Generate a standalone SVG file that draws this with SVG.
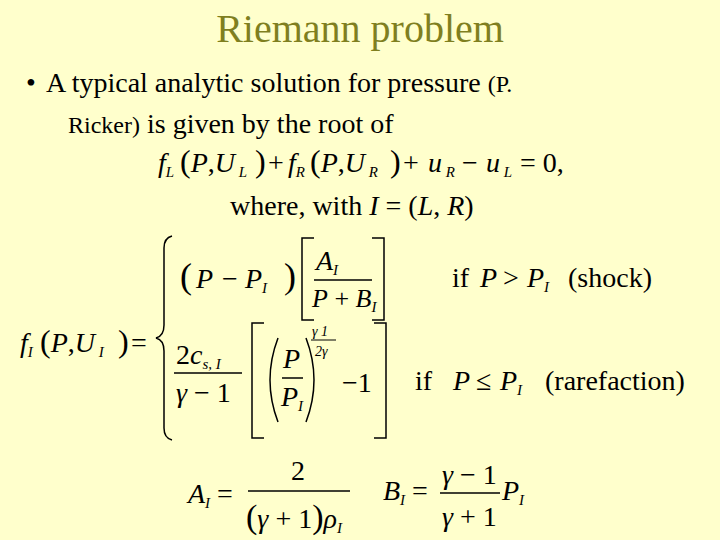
<svg xmlns="http://www.w3.org/2000/svg" width="720" height="540" viewBox="0 0 720 540">
<style>
text{font-family:"Liberation Serif","Times New Roman",serif;fill:#000}
.i{font-style:italic}
.m{font-size:28px}
.s{font-size:15px;font-style:italic}
.ln{stroke:#000;stroke-width:1.5;fill:none}
</style>
<rect width="720" height="540" fill="#FFFFCC"/>
<g id="title"><text x="360" y="42" text-anchor="middle" font-size="40" style="fill:#7F7F1F">Riemann problem</text></g>
<g id="body">
<text x="26" y="92" font-size="28">•</text>
<text x="46" y="92" font-size="28">A typical analytic solution for pressure <tspan font-size="24">(P.</tspan></text>
<text x="68" y="133" font-size="28"><tspan font-size="24">Ricker)</tspan> is given by the root of</text>
</g>
<g id="eq1">
<text y="172" class="m"><tspan x="158" class="i">f</tspan><tspan class="s" dy="5">L</tspan><tspan x="180" dy="-5" font-size="32">(</tspan><tspan class="i">P</tspan>,<tspan class="i">U</tspan><tspan class="s" dy="5"> L</tspan><tspan x="255" dy="-5" font-size="32">)</tspan><tspan x="268">+</tspan><tspan x="288" class="i">f</tspan><tspan class="s" dy="5">R</tspan><tspan x="310" dy="-5" font-size="32">(</tspan><tspan class="i">P</tspan>,<tspan class="i">U</tspan><tspan class="s" dy="5"> R</tspan><tspan x="390" dy="-5" font-size="32">)</tspan><tspan x="403">+</tspan><tspan x="428" class="i">u</tspan><tspan class="s" dy="5"> R</tspan><tspan x="462" dy="-5">−</tspan><tspan x="486" class="i">u</tspan><tspan class="s" dy="5"> L</tspan><tspan x="520" dy="-5">= 0,</tspan></text>
<text x="230" y="215" class="m">where, with <tspan class="i">I</tspan> = (<tspan class="i">L</tspan>, <tspan class="i">R</tspan>)</text>
</g>
<g id="lhs">
<text y="352" class="m"><tspan x="20" class="i">f</tspan><tspan class="s" dy="5">I</tspan><tspan x="40" dy="-5" font-size="32">(</tspan><tspan class="i">P</tspan>,<tspan class="i">U</tspan><tspan class="s" dy="5"> I</tspan><tspan x="118" dy="-5" font-size="32">)</tspan><tspan x="131">=</tspan></text>
<path class="ln" d="M172,236 Q164,238 164,248 L164,325 Q164,336 156,338 Q164,340 164,351 L164,428 Q164,438 172,440"/>
</g>
<g id="row1">
<text y="288" class="m"><tspan x="180" font-size="36">(</tspan><tspan x="196" class="i">P</tspan><tspan x="222">−</tspan><tspan x="245" class="i">P</tspan><tspan class="s" dy="5">I</tspan><tspan x="284" dy="-5" font-size="36">)</tspan></text>
<path class="ln" d="M314,238 L302,238 L302,320 L314,320 M372,238 L384,238 L384,320 L372,320"/>
<text x="316" y="270" class="m"><tspan class="i">A</tspan><tspan class="s" dy="5">I</tspan></text>
<line class="ln" x1="314" y1="280" x2="372" y2="280"/>
<text x="312" y="307" font-size="26"><tspan class="i">P</tspan> + <tspan class="i">B</tspan><tspan class="s" dy="5">I</tspan></text>
<text y="287" class="m"><tspan x="452">if</tspan><tspan x="480" class="i">P</tspan><tspan x="503">&gt;</tspan><tspan x="527" class="i">P</tspan><tspan class="s" dy="5">I</tspan><tspan x="568" dy="-5">(shock)</tspan></text>
</g>
<g id="row2">
<text x="176" y="364" class="m">2<tspan class="i">c</tspan><tspan class="s" dy="5">s, I</tspan></text>
<line class="ln" x1="174" y1="373" x2="242" y2="373"/>
<text x="176" y="402" class="m"><tspan class="i">γ</tspan> − 1</text>
<path class="ln" d="M264,323 L252,323 L252,438 L264,438 M374,323 L386,323 L386,438 L374,438"/>
<path class="ln" d="M278,338 Q262,380 278,422 M306,338 Q322,380 306,422"/>
<text x="283" y="368" class="m i">P</text>
<line class="ln" x1="282" y1="378" x2="303" y2="378"/>
<text x="281" y="406" class="m"><tspan class="i">P</tspan><tspan class="s" dy="5">I</tspan></text>
<text x="312" y="336" font-size="14" class="i">γ   1</text>
<line stroke="#000" stroke-width="1" x1="311" y1="340" x2="336" y2="340"/>
<text x="315" y="356" font-size="14" class="i">2γ</text>
<text x="342" y="392" class="m">−1</text>
<text y="390" class="m"><tspan x="415">if</tspan><tspan x="453" class="i">P</tspan><tspan x="476">≤</tspan><tspan x="500" class="i">P</tspan><tspan class="s" dy="5">I</tspan><tspan x="545" dy="-5">(rarefaction)</tspan></text>
</g>
<g id="defs-A">
<text x="188" y="503" class="m"><tspan class="i">A</tspan><tspan class="s" dy="5">I</tspan><tspan dy="-5">  =</tspan></text>
<text x="291" y="480" class="m">2</text>
<line class="ln" x1="248" y1="491" x2="350" y2="491"/>
<text x="246" y="528" class="m"><tspan font-size="34">(</tspan><tspan class="i">γ</tspan> + 1<tspan font-size="34">)</tspan><tspan class="i">ρ</tspan><tspan class="s" dy="5">I</tspan></text>
</g>
<g id="defs-B">
<text x="383" y="500" class="m"><tspan class="i">B</tspan><tspan class="s" dy="5">I</tspan><tspan dy="-5">  =</tspan></text>
<text x="442" y="484" class="m"><tspan class="i">γ</tspan> − 1</text>
<line class="ln" x1="440" y1="493" x2="500" y2="493"/>
<text x="442" y="526" class="m"><tspan class="i">γ</tspan> + 1</text>
<text x="502" y="500" class="m"><tspan class="i">P</tspan><tspan class="s" dy="5">I</tspan></text>
</g>
</svg>
